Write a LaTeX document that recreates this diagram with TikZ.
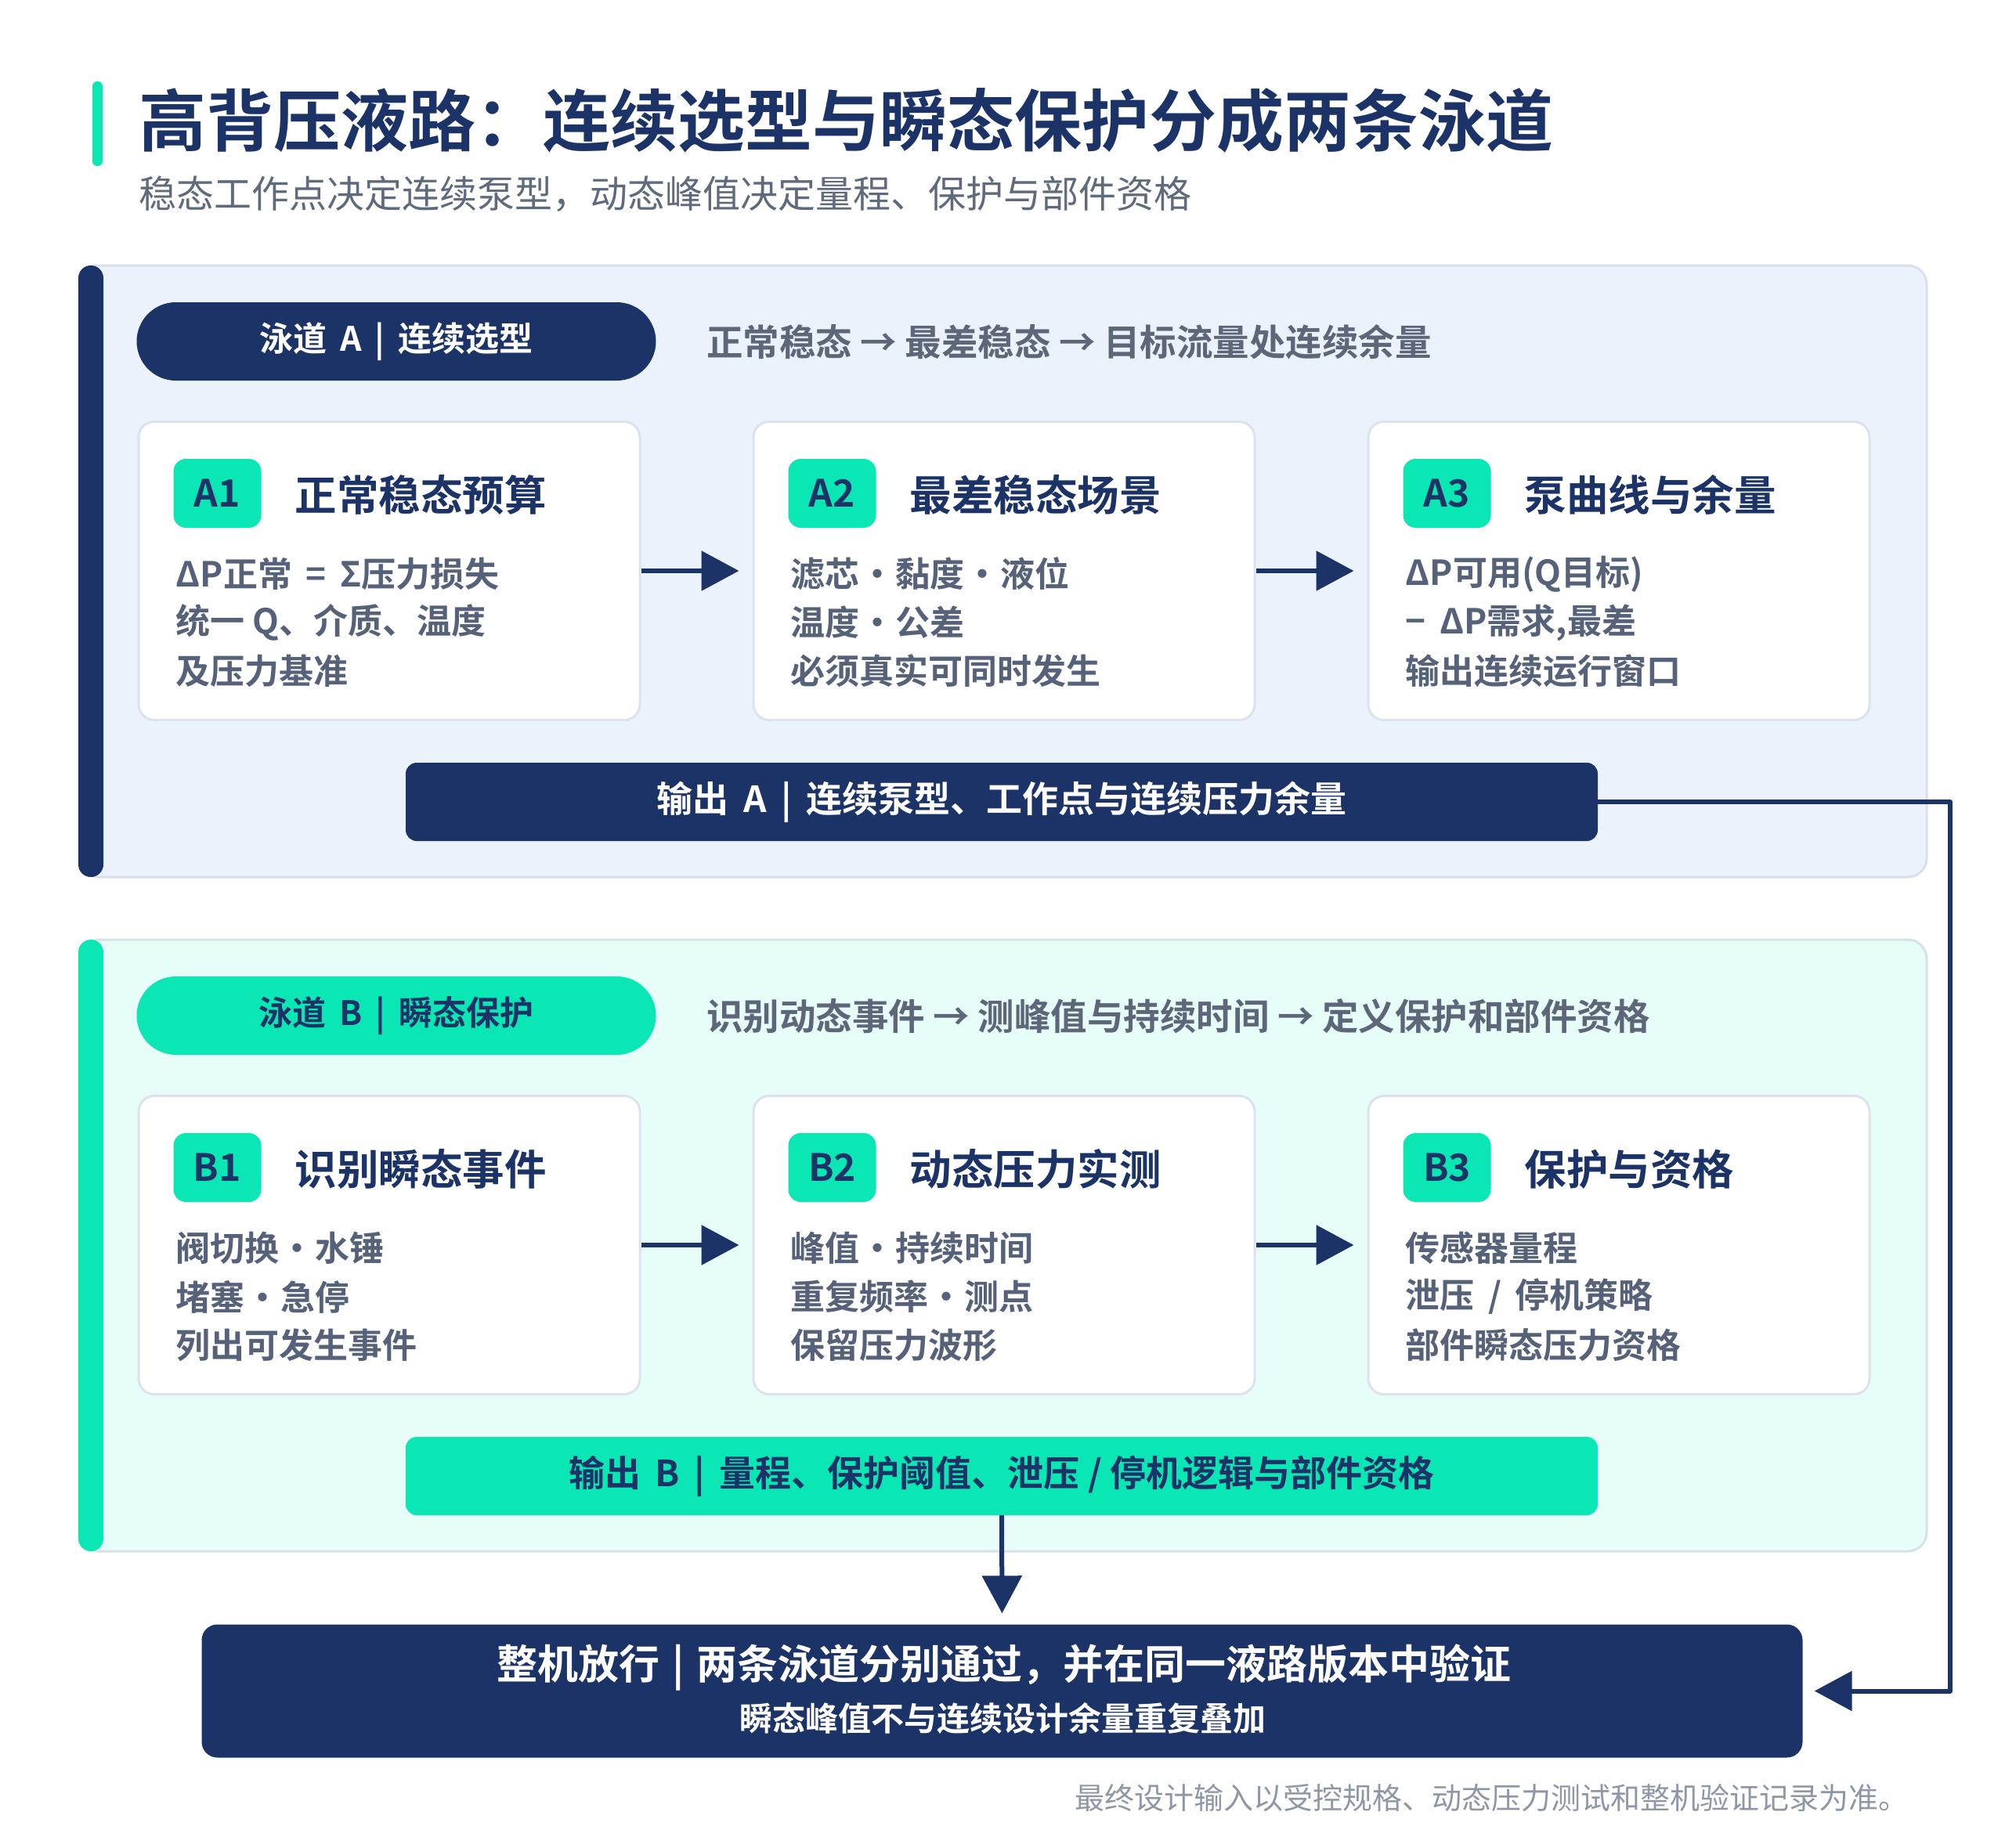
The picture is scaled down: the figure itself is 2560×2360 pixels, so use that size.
\documentclass[tikz,border=0pt]{standalone}
\usepackage{fontspec}
\setmainfont{Noto Sans CJK SC}[BoldFont={Noto Sans CJK SC Bold}]
\usetikzlibrary{arrows.meta}
\definecolor{navy}{HTML}{1B3366}
\definecolor{mint}{HTML}{0BE7B4}
\definecolor{fillA}{HTML}{EBF2FB}
\definecolor{bdA}{HTML}{D8E0EC}
\definecolor{fillB}{HTML}{E7FDF8}
\definecolor{bdB}{HTML}{D5E2E8}
\definecolor{cardbd}{HTML}{DDE3EC}
\definecolor{bodygray}{HTML}{566279}
\definecolor{descgray}{HTML}{5D6779}
\definecolor{subgray}{HTML}{5F6A7D}
\definecolor{footgray}{HTML}{8E97A6}
\newcommand\fsz[1]{\fontsize{#1}{#1}\selectfont}
\newcommand\dotsep{\makebox[46pt]{•}}
\newcommand\gp{\hspace{0.4em}}
\begin{document}
\begin{tikzpicture}[x=1pt,y=-1pt,
  panelbox/.style={line width=3pt, rounded corners=24pt},
  cardbox/.style={draw=cardbd, line width=3pt, fill=white, rounded corners=20pt,
    minimum width=640pt, minimum height=381pt, inner sep=0pt},
  badgebox/.style={rounded corners=16pt, minimum width=112pt, minimum height=88pt,
    inner sep=0pt, text=navy, font=\bfseries\fsz{48}},
  cardtitle/.style={anchor=west, inner sep=0pt, text=navy, font=\bfseries\fsz{53.5}},
  bodyline/.style={anchor=west, inner sep=0pt, text=bodygray, font=\bfseries\fsz{44}},
  pillbox/.style={rounded corners=50pt, minimum width=663pt, minimum height=100pt,
    inner sep=0pt, font=\bfseries\fsz{43}},
  desctext/.style={anchor=west, inner sep=0pt, text=descgray, font=\bfseries\fsz{46.5}},
  outbox/.style={rounded corners=14pt, minimum width=1522pt, minimum height=100pt,
    inner sep=0pt, font=\bfseries\fsz{46}},
  flow/.style={draw=navy, line width=6pt, line join=round,
    -{Triangle[length=48pt,width=50pt]}},
]
\useasboundingbox (0,0) rectangle (2560,2360);
\fill[white] (0,0) rectangle (2560,2360);

% title
\fill[mint, rounded corners=6pt] (118,104) rectangle (131,212);
\node[anchor=west, inner sep=0pt, text=navy, font=\bfseries\fsz{86}] (title) at (177,154)
  {高背压液路：连续选型与瞬态保护分成两条泳道};
\node[anchor=west, inner sep=0pt, text=subgray, font=\fsz{48}] (subtitle) at (177,248)
  {稳态工作点决定连续泵型，动态峰值决定量程、保护与部件资格};

% ---------------- Lane A ----------------
\def\T{339}
\draw[panelbox, draw=bdA, fill=fillA] (102,\T) rectangle (2460,\T+781);
\fill[navy, rounded corners=16pt] (100,\T) rectangle (132,\T+781);
\node[pillbox, fill=navy, text=white] (pillA) at (506,\T+97) {泳道\gp A\gp|\gp 连续选型};
\node[desctext] (descA) at (902,\T+98) {正常稳态 → 最差稳态 → 目标流量处连续余量};

\node[cardbox] (A1) at (497,\T+390) {};
\node[cardbox] (A2) at (1282,\T+390) {};
\node[cardbox] (A3) at (2067,\T+390) {};

\foreach \c/\lab/\ttl in {A1/A1/正常稳态预算, A2/A2/最差稳态场景, A3/A3/泵曲线与余量}{
  \node[badgebox, fill=mint] (\c badge) at ([xshift=102pt,yshift=99pt]\c.west) {\lab};
  \node[cardtitle] (\c title) at ([xshift=201pt,yshift=97pt]\c.west) {\ttl};
}
\node[bodyline] (A1l1) at ([xshift=49pt,yshift=-4pt]A1.west) {ΔP正常\gp=\gp Σ压力损失};
\node[bodyline] (A1l2) at ([xshift=49pt,yshift=-66pt]A1.west) {统一 Q、介质、温度};
\node[bodyline] (A1l3) at ([xshift=49pt,yshift=-128pt]A1.west) {及压力基准};
\node[bodyline] (A2l1) at ([xshift=49pt,yshift=-4pt]A2.west) {滤芯\dotsep 黏度\dotsep 液位};
\node[bodyline] (A2l2) at ([xshift=49pt,yshift=-66pt]A2.west) {温度\dotsep 公差};
\node[bodyline] (A2l3) at ([xshift=49pt,yshift=-128pt]A2.west) {必须真实可同时发生};
\node[bodyline] (A3l1) at ([xshift=49pt,yshift=-4pt]A3.west) {ΔP可用(Q目标)};
\node[bodyline] (A3l2) at ([xshift=49pt,yshift=-66pt]A3.west) {−\gp ΔP需求,最差};
\node[bodyline] (A3l3) at ([xshift=49pt,yshift=-128pt]A3.west) {输出连续运行窗口};

\draw[flow, shorten >=17pt] (A1.east) -- (A2.west);
\draw[flow, shorten >=17pt] (A2.east) -- (A3.west);

\node[outbox, fill=navy, text=white] (outA) at (1279,\T+685)
  {输出\gp A\gp|\gp 连续泵型、工作点与连续压力余量};

% ---------------- Lane B ----------------
\def\T{1200}
\draw[panelbox, draw=bdB, fill=fillB] (102,\T) rectangle (2460,\T+781);
\fill[mint, rounded corners=16pt] (100,\T) rectangle (132,\T+781);
\node[pillbox, fill=mint, text=navy] (pillB) at (506,\T+97) {泳道\gp B\gp|\gp 瞬态保护};
\node[desctext] (descB) at (902,\T+98) {识别动态事件 → 测峰值与持续时间 → 定义保护和部件资格};

\node[cardbox] (B1) at (497,\T+390) {};
\node[cardbox] (B2) at (1282,\T+390) {};
\node[cardbox] (B3) at (2067,\T+390) {};

\foreach \c/\lab/\ttl in {B1/B1/识别瞬态事件, B2/B2/动态压力实测, B3/B3/保护与资格}{
  \node[badgebox, fill=mint] (\c badge) at ([xshift=102pt,yshift=99pt]\c.west) {\lab};
  \node[cardtitle] (\c title) at ([xshift=201pt,yshift=97pt]\c.west) {\ttl};
}
\node[bodyline] (B1l1) at ([xshift=49pt,yshift=-4pt]B1.west) {阀切换\dotsep 水锤};
\node[bodyline] (B1l2) at ([xshift=49pt,yshift=-66pt]B1.west) {堵塞\dotsep 急停};
\node[bodyline] (B1l3) at ([xshift=49pt,yshift=-128pt]B1.west) {列出可发生事件};
\node[bodyline] (B2l1) at ([xshift=49pt,yshift=-4pt]B2.west) {峰值\dotsep 持续时间};
\node[bodyline] (B2l2) at ([xshift=49pt,yshift=-66pt]B2.west) {重复频率\dotsep 测点};
\node[bodyline] (B2l3) at ([xshift=49pt,yshift=-128pt]B2.west) {保留压力波形};
\node[bodyline] (B3l1) at ([xshift=49pt,yshift=-4pt]B3.west) {传感器量程};
\node[bodyline] (B3l2) at ([xshift=49pt,yshift=-66pt]B3.west) {泄压\gp/\gp 停机策略};
\node[bodyline] (B3l3) at ([xshift=49pt,yshift=-128pt]B3.west) {部件瞬态压力资格};

\draw[flow, shorten >=17pt] (B1.east) -- (B2.west);
\draw[flow, shorten >=17pt] (B2.east) -- (B3.west);

\node[outbox, fill=mint, text=navy] (outB) at (1279,\T+685)
  {输出\gp B\gp|\gp 量程、保护阈值、泄压 / 停机逻辑与部件资格};

% ---------------- Final ----------------
\node[fill=navy, rounded corners=20pt, minimum width=2044pt, minimum height=170pt,
  inner sep=0pt] (final) at (1279.5,2159.5) {};
\node[inner sep=0pt, text=white, font=\bfseries\fsz{52}] (finalt1) at (1282,2129)
  {整机放行\hspace{0.3em}|\hspace{0.3em}两条泳道分别通过，并在同一液路版本中验证};
\node[inner sep=0pt, text=white, font=\bfseries\fsz{42}] (finalt2) at (1280,2194)
  {瞬态峰值不与连续设计余量重复叠加};

\draw[flow, shorten >=14pt] (outB.south) -- (final.north);
\coordinate (rc) at (2490,1024);
\draw[flow, shorten >=15pt] (outA.east) -- (rc) |- (final.east);

\node[anchor=east, inner sep=0pt, text=footgray, font=\fsz{38}] (foot) at (2437,2296)
  {最终设计输入以受控规格、动态压力测试和整机验证记录为准。};
\end{tikzpicture}
\end{document}
